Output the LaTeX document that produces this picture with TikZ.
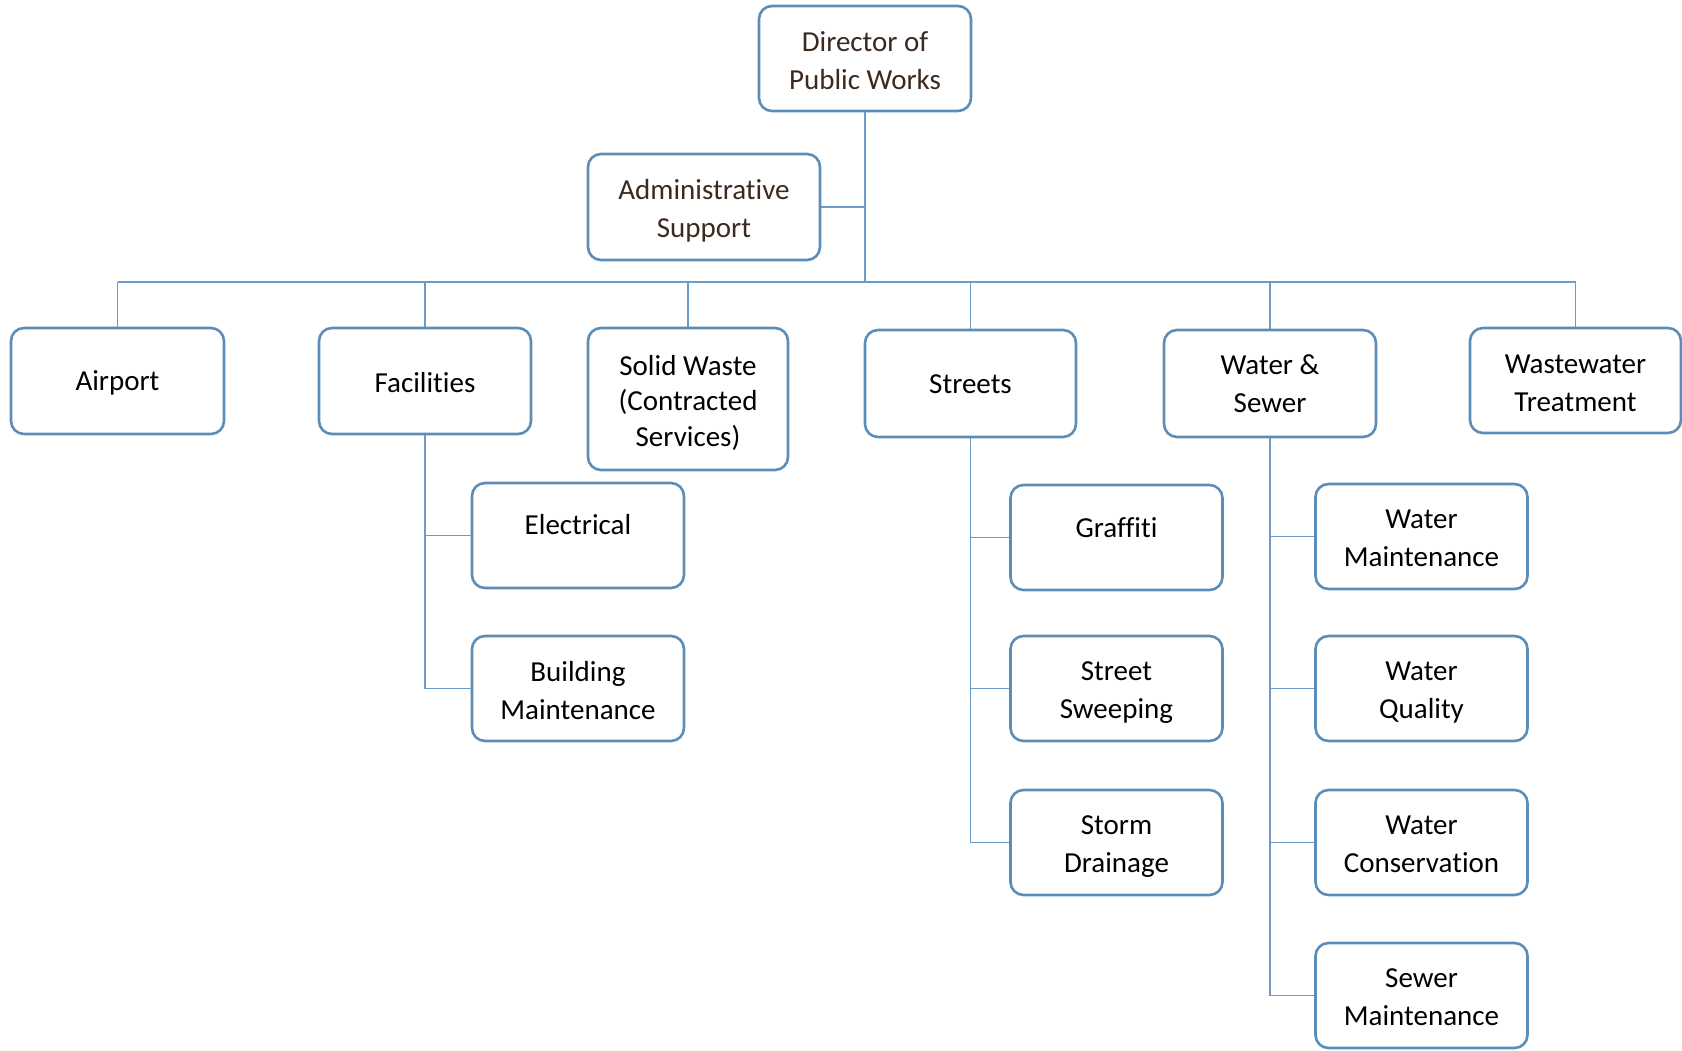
\documentclass[tikz,border=0pt]{standalone}
\usepackage{fontspec}
\setmainfont[Ligatures={NoCommon}]{Carlito}
\definecolor{boxblue}{HTML}{5B8DB9}
\definecolor{lineblue}{HTML}{6B9BC6}
\definecolor{brownText}{HTML}{3D2A1F}
\newcommand\topstrut{\rule{0pt}{28pt}}
\newcommand\onestrut{\rule{0pt}{24pt}}
\begin{document}
\begin{tikzpicture}[x=1pt,y=-1pt,
  orgbox/.style={draw=boxblue, line width=2.6pt, rounded corners=13pt, fill=white,
    align=center, inner sep=2pt, font=\fontsize{29}{38}\selectfont,
    minimum width=212pt, minimum height=105pt},
  conn/.style={draw=lineblue, line width=1.4pt},
  brownish/.style={text=brownText}
]
\useasboundingbox (0,0) rectangle (1682,1051);
% top
\node[orgbox, brownish] (dir) at (865,58.5) {\rule{0pt}{25pt}Director of\\Public Works};
\node[orgbox, brownish, minimum width=232pt, minimum height=106pt] (adm) at (704,207) {\topstrut Administrative\\Support};
\coordinate (bus) at (0,282);
% level 1
\node[orgbox, minimum width=213pt, minimum height=106pt] (air) at (117.5,381) {\onestrut Airport};
\node[orgbox, minimum width=212pt, minimum height=106pt] (fac) at (425,381) {\onestrut Facilities};
\node[orgbox, minimum width=200pt, minimum height=142pt, font=\fontsize{29}{35.5}\selectfont] (sw) at (688,399) {\topstrut Solid Waste\\(Contracted\\Services)};
\node[orgbox, minimum width=211pt, minimum height=107pt] (str) at (970.5,383.5) {\rule{0pt}{21pt}Streets};
\node[orgbox, minimum width=212pt, minimum height=107pt] (ws) at (1270,383.5) {Water \&\\Sewer};
\node[orgbox, minimum width=211pt, minimum height=105pt] (ww) at (1575.5,380.5) {\rule{0pt}{24pt}Wastewater\\Treatment};
% facilities children
\node[orgbox, text depth=22pt] (elec) at (578,535.5) {Electrical};
\node[orgbox] (bm) at (578,688.5) {\rule{0pt}{24pt}Building\\Maintenance};
% streets children
\node[orgbox, text depth=20pt] (graf) at (1116.5,537.5) {Graffiti};
\node[orgbox] (ss) at (1116.5,688.5) {\rule{0pt}{27pt}Street\\Sweeping};
\node[orgbox] (sd) at (1116.5,842.5) {\rule{0pt}{27pt}Storm\\Drainage};
% water & sewer children
\node[orgbox] (wm) at (1421.5,536.5) {\rule{0pt}{22pt}Water\\Maintenance};
\node[orgbox] (wq) at (1421.5,688.5) {\rule{0pt}{27pt}Water\\Quality};
\node[orgbox] (wc) at (1421.5,842.5) {\rule{0pt}{22pt}Water\\Conservation};
\node[orgbox] (sm) at (1421.5,995.5) {\rule{0pt}{22pt}Sewer\\Maintenance};
% connectors
\draw[conn] (dir.south) -- (dir.south |- bus);
\draw[conn] (adm.east) -- (adm.east -| dir.south);
\draw[conn] (air.north |- bus) -- (ww.north |- bus);
\foreach \n in {air,fac,sw,str,ws,ww} \draw[conn] (\n.north |- bus) -- (\n.north);
\foreach \c in {elec,bm} \draw[conn] (fac.south) |- (\c.west);
\foreach \c in {graf,ss,sd} \draw[conn] (str.south) |- (\c.west);
\foreach \c in {wm,wq,wc,sm} \draw[conn] (ws.south) |- (\c.west);
\end{tikzpicture}
\end{document}
